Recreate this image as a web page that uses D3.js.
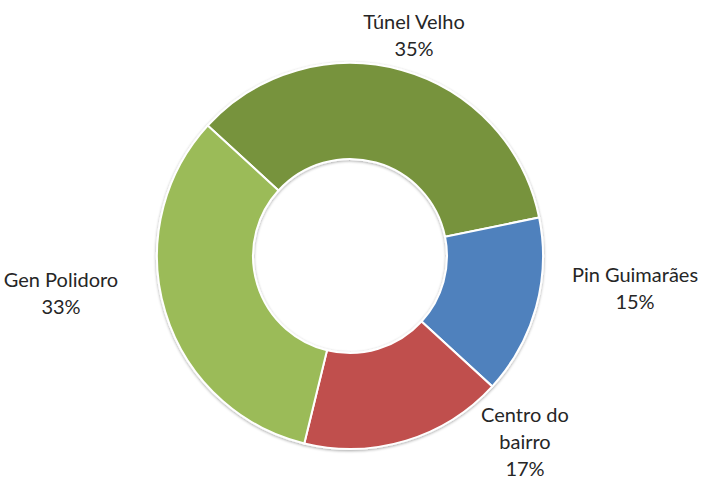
<!DOCTYPE html>
<html>
<head>
<meta charset="utf-8">
<script src="https://cdn.jsdelivr.net/npm/d3@7"></script>
<style>
  html, body { margin: 0; padding: 0; background: #ffffff; }
  #grafico { width: 707px; height: 481px; }
</style>
</head>
<body>
<div id="grafico"></div>
<script>
// data
const categorias = ['Túnel Velho', 'Pin Guimarães', 'Centro do bairro', 'Gen Polidoro'];
const valores = [35, 15, 17, 33];
const rotulos = [['Túnel Velho', '35%'], ['Pin Guimarães', '15%'], ['Centro do', 'bairro', '17%'], ['Gen Polidoro', '33%']];
const cores = ['#77933c', '#4f81bd', '#c0504d', '#9bbb59'];

// layout
const size = { width: 707, height: 481 };
const centro = { x: 350, y: 256 };
const raioExterno = 193;
const raioInterno = 97;
const anguloInicial = -47.5 * Math.PI / 180;
// label centres (x) and first baseline (y)
const posRotulos = [[414, 29], [635, 282], [525, 422], [61, 287]];
const alturaLinha = 27;

const svg = d3.select('#grafico').append('svg')
  .attr('width', size.width)
  .attr('height', size.height);

// soft shadow like the excel ring
const defs = svg.append('defs');
const sombra = defs.append('filter').attr('id', 'sombra')
  .attr('x', '-10%').attr('y', '-10%').attr('width', '120%').attr('height', '120%');
sombra.append('feGaussianBlur').attr('in', 'SourceAlpha').attr('stdDeviation', 1.5);
sombra.append('feOffset').attr('dx', 0).attr('dy', 1).attr('result', 'desl');
sombra.append('feComponentTransfer').append('feFuncA').attr('type', 'linear').attr('slope', 0.35);
const merge = sombra.append('feMerge');
merge.append('feMergeNode');
merge.append('feMergeNode').attr('in', 'SourceGraphic');

const pie = d3.pie()
  .sort(null)
  .value(d => d)
  .startAngle(anguloInicial)
  .endAngle(anguloInicial + 2 * Math.PI);

const arco = d3.arc()
  .innerRadius(raioInterno)
  .outerRadius(raioExterno);

const cor = d3.scaleOrdinal().domain(categorias).range(cores);

const anel = svg.append('g')
  .attr('transform', `translate(${centro.x},${centro.y})`)
  .attr('filter', 'url(#sombra)');

anel.selectAll('path')
  .data(pie(valores))
  .join('path')
  .attr('d', arco)
  .attr('fill', (d, i) => cor(categorias[i]))
  .attr('stroke', '#ffffff')
  .attr('stroke-width', 2);

//labels
const textos = svg.append('g').attr('id', 'rotulos');
rotulos.forEach((linhas, i) => {
  const t = textos.append('text')
    .attr('x', posRotulos[i][0])
    .attr('y', posRotulos[i][1])
    .attr('text-anchor', 'middle')
    .attr('font-family', 'Lato, sans-serif')
    .attr('font-size', '20px')
    .attr('fill', '#262626');
  linhas.forEach((l, j) => {
    t.append('tspan')
      .attr('x', posRotulos[i][0])
      .attr('dy', j === 0 ? 0 : alturaLinha)
      .text(l);
  });
});
</script>
</body>
</html>
